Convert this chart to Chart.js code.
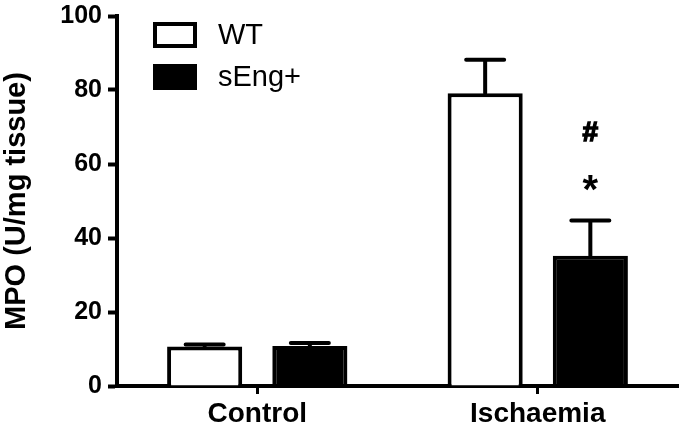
<!DOCTYPE html>
<html>
<head>
<meta charset="utf-8">
<script src="https://cdn.jsdelivr.net/npm/chart.js@4.4.0/dist/chart.umd.min.js"></script>
<style>
	html, body { margin: 0; padding: 0; background: #fff; }
	#wrap { width: 682px; height: 427px; }
</style>
</head>
<body>
<div id="wrap"><canvas id="mpoChart" width="682" height="427"></canvas></div>
<script>
// data
var groups = ["Control", "Ischaemia"];
var seriesNames = ["WT", "sEng+"];
var wtMean = [10.7, 79.1];
var wtSem = [0.5, 9.1];
var sengMean = [10.8, 35.2];
var sengSem = [0.8, 9.5];
var yTicks = [0, 20, 40, 60, 80, 100];
var marks = ["#", "*"]; // over sEng+ Ischaemia

var FONT = "'Liberation Sans', Arial, Helvetica, sans-serif";

// error bars (upper only) + significance marks
var errorBars = {
	id: "errorBars",
	afterDatasetsDraw: function(chart) {
		var ctx = chart.ctx;
		var y = chart.scales.y;
		ctx.save();
		ctx.strokeStyle = "#000";
		ctx.lineWidth = 4;
		ctx.lineCap = "round";
		chart.data.datasets.forEach(function(ds, di) {
			var meta = chart.getDatasetMeta(di);
			meta.data.forEach(function(bar, i) {
				var top = y.getPixelForValue(ds.data[i] + ds.sem[i]);
				var base = y.getPixelForValue(ds.data[i]);
				ctx.beginPath();
				ctx.moveTo(bar.x, base);
				ctx.lineTo(bar.x, top);
				ctx.moveTo(bar.x - 19, top);
				ctx.lineTo(bar.x + 19, top);
				ctx.stroke();
			});
		});
		// marks above sEng+ Ischaemia
		var bar = chart.getDatasetMeta(1).data[1];
		var ds = chart.data.datasets[1];
		var top = y.getPixelForValue(ds.data[1] + ds.sem[1]);
		ctx.fillStyle = "#000";
		ctx.textAlign = "center";
		ctx.textBaseline = "middle";
		ctx.font = "bold 28px " + FONT;
		ctx.lineWidth = 1.5;
		ctx.lineCap = "butt";
		ctx.fillText(marks[0], bar.x, top - 87);
		ctx.strokeText(marks[0], bar.x, top - 87);
		ctx.font = "bold 40px " + FONT;
		ctx.fillText(marks[1], bar.x, top - 29);
		ctx.restore();
	}
};

// legend in the top left of the plot
var boxLegend = {
	id: "boxLegend",
	afterDraw: function(chart) {
		var ctx = chart.ctx;
		ctx.save();
		chart.data.datasets.forEach(function(ds, i) {
			var top = 22 + i * 42;
			ctx.fillStyle = ds.backgroundColor;
			ctx.fillRect(153, top, 44, 26);
			ctx.strokeStyle = "#000";
			ctx.lineWidth = 4;
			ctx.strokeRect(155, top + 2, 40, 22);
			ctx.fillStyle = "#000";
			ctx.font = "29px " + FONT;
			ctx.textAlign = "left";
			ctx.textBaseline = "middle";
			ctx.fillText(ds.label, 218, top + 14);
		});
		ctx.restore();
	}
};

var ctx = document.getElementById("mpoChart").getContext("2d");
var chart = new Chart(ctx, {
	type: "bar",
	data: {
		labels: groups,
		datasets: [{
			label: seriesNames[0],
			data: wtMean,
			sem: wtSem,
			backgroundColor: "#fff",
			borderColor: "#000",
			borderWidth: 4
		}, {
			label: seriesNames[1],
			data: sengMean,
			sem: sengSem,
			backgroundColor: "#000",
			borderColor: "#000",
			borderWidth: 4
		}]
	},
	options: {
		responsive: false,
		animation: false,
		categoryPercentage: 0.75,
		barPercentage: 0.714,
		layout: {
			padding: { top: 12, right: 4, left: 0, bottom: 0 }
		},
		plugins: {
			legend: { display: false },
			tooltip: { enabled: false }
		},
		scales: {
			x: {
				afterFit: function(scale) { scale.height = 41; },
				border: { color: "#000", width: 4 },
				grid: {
					offset: false,
					drawOnChartArea: false,
					drawTicks: true,
					tickLength: 8,
					tickWidth: 3,
					tickColor: "#000",
					color: "#000"
				},
				ticks: {
					color: "#000",
					padding: 3,
					font: { family: FONT, size: 28, weight: "bold" }
				}
			},
			y: {
				min: 0,
				max: 100,
				afterFit: function(scale) { scale.width = 117; },
				afterBuildTicks: function(scale) {
					scale.ticks = yTicks.map(function(v) { return { value: v }; });
				},
				border: { color: "#000", width: 4 },
				grid: {
					drawOnChartArea: false,
					tickLength: 9,
					tickWidth: 4,
					tickColor: "#000",
					color: "#000"
				},
				ticks: {
					color: "#000",
					padding: 6,
					font: { family: FONT, size: 25, weight: "bold", lineHeight: 0.8 }
				},
				title: {
					display: true,
					text: "MPO (U/mg tissue)",
					color: "#000",
					padding: 0,
					font: { family: FONT, size: 29, weight: "bold" }
				}
			}
		}
	},
	plugins: [errorBars, boxLegend]
});
</script>
</body>
</html>
